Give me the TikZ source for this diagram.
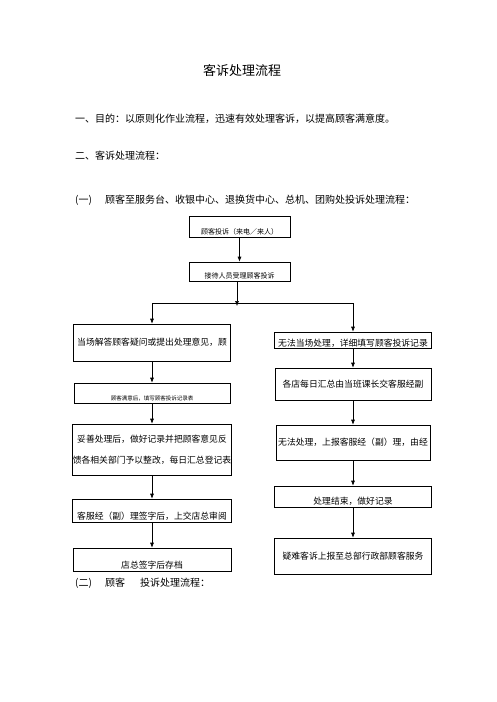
\documentclass[tikz,border=0pt]{standalone}
\usepackage{fontspec}
\setmainfont{Noto Sans CJK SC}
\usetikzlibrary{arrows.meta}

\newcommand{\fsz}[1]{\fontsize{#1}{#1}\selectfont}

\tikzset{
  flowbox/.style={draw=black,line width=0.6pt,inner sep=0pt,align=center,font=\fsz{8.8}},
  lowtext/.style={text height=#1,text depth=3pt},
  flowarrow/.style={-{Latex[length=5pt,width=4pt]},line width=0.6pt},
  flowline/.style={line width=0.6pt},
  bodytext/.style={anchor=base west,inner sep=0pt,font=\fsz{10}}
}

\begin{document}
\begin{tikzpicture}[x=1pt,y=-1pt]
\useasboundingbox (0,0) rectangle (496,702);
% heading and text
\node[inner sep=0pt,font=\fsz{13}] (title) at (242,71) {客诉处理流程};
\node[bodytext] (aim) at (75,122) {一、目的：以原则化作业流程，迅速有效处理客诉，以提高顾客满意度。};
\node[bodytext] (flow) at (75,159) {二、客诉处理流程：};
\node[bodytext] (part1) at (75,203) {(一)};
\node[bodytext] (part1_t) at (105,203) {顾客至服务台、收银中心、退换货中心、总机、团购处投诉处理流程：};
\node[bodytext] (part2) at (75,586) {(二)};
\node[bodytext] (part2_a) at (105,586) {顾客};
\node[bodytext] (part2_b) at (140,586) {投诉处理流程：};

% top
\node[flowbox,minimum width=101pt,lowtext=18pt,font=\fsz{7}] (cmp_in) at (239.5,226.5) {顾客投诉（来电／来人）};
\node[flowbox,minimum width=101pt,lowtext=16pt,font=\fsz{7}] (cmp_recv) at (239.5,271.5) {接待人员受理顾客投诉};
\coordinate (split) at (237,303);

% left column
\node[flowbox,minimum width=157pt,minimum height=37pt] (l_solve) at (152,342.5) {当场解答顾客疑问或提出处理意见，顾};
\node[flowbox,minimum width=156pt,lowtext=17pt,font=\fsz{5.5}] (l_note) at (152,393) {顾客满意后，填写顾客投诉记录表};
\node[flowbox,minimum width=159pt,minimum height=51pt] (l_deal) at (152,449.5) {妥善处理后，做好记录并把顾客意见反\\[12pt]馈各相关部门予以整改，每日汇总登记表};
\node[flowbox,minimum width=159pt,lowtext=20pt] (l_sign) at (152,510.5) {客服经（副）理签字后，上交店总审阅};
\node[flowbox,minimum width=158pt,lowtext=20pt] (l_file) at (152,559.5) {店总签字后存档};

% right column
\node[flowbox,minimum width=157pt,text height=14pt,text depth=2pt] (r_rec) at (353,340) {无法当场处理，详细填写顾客投诉记录};
\node[flowbox,minimum width=156pt,minimum height=32pt] (r_sum) at (353,384) {各店每日汇总由当班课长交客服经副};
\node[flowbox,minimum width=154pt,minimum height=35pt] (r_up) at (353,442.5) {无法处理，上报客服经（副）理，由经};
\node[flowbox,minimum width=157pt,lowtext=18pt] (r_end) at (353,496.5) {处理结束，做好记录};
\node[flowbox,minimum width=157pt,minimum height=36pt] (r_hq) at (353,556) {疑难客诉上报至总部行政部顾客服务};

% connectors
\draw[flowarrow] (cmp_in) -- (cmp_recv);
\draw[flowarrow] (cmp_recv.south -| split) -- ([yshift=-3pt]split);
\draw[flowline] (l_solve.north |- split) -- (r_rec.north |- split);
\draw[flowarrow] (l_solve.north |- split) -- (l_solve.north);
\draw[flowarrow] (r_rec.north |- split) -- (r_rec.north);
\draw[flowarrow] (l_solve) -- (l_note);
\draw[flowarrow] (l_note) -- (l_deal);
\draw[flowarrow] (l_deal) -- (l_sign);
\draw[flowarrow] (l_sign) -- (l_file);
\draw[flowarrow] (r_rec) -- (r_sum);
\draw[flowarrow] (r_sum) -- (r_up);
\draw[flowarrow] (r_up) -- (r_end);
\draw[flowarrow] (r_end) -- (r_hq);
\end{tikzpicture}
\end{document}
